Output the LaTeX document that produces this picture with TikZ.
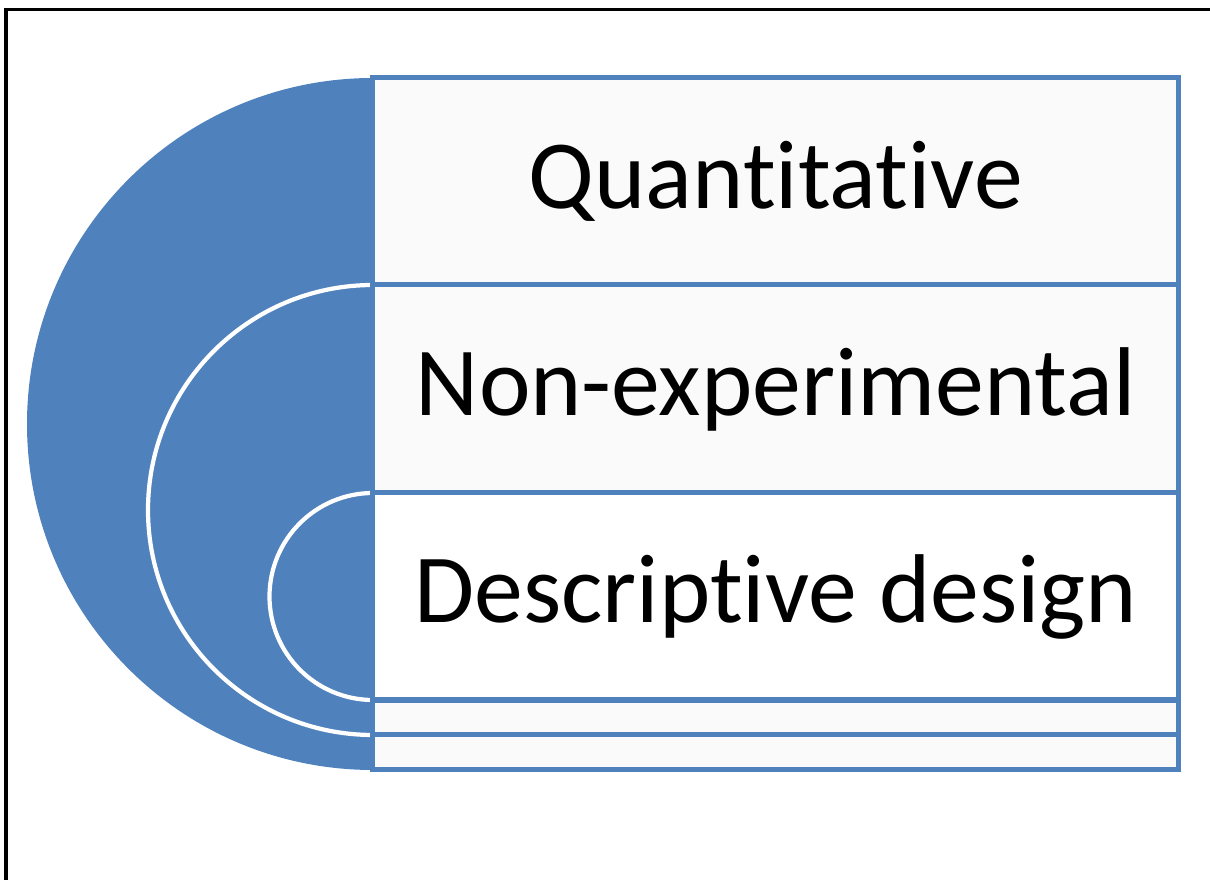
\documentclass[tikz,border=0pt]{standalone}
\usepackage{fontspec}
\setmainfont{Carlito}[Ligatures=NoCommon]
\definecolor{accblue}{HTML}{4F81BD}
\definecolor{boxgrey}{HTML}{FAFAFA}
\begin{document}
\begin{tikzpicture}[x=0.025cm, y=0.025cm]

      \useasboundingbox (0,0) rectangle (1210,880);
      \clip (0,0) rectangle (1210,880);
      \draw[line width=2.5pt] (6,-20) -- (6,870.5) -- (1240,870.5);

      % nested half discs
      \fill[accblue] (373,802) arc[start angle=90, end angle=270, radius=346] -- cycle;
      \fill[accblue] (373,595) arc[start angle=90, end angle=270, radius=225] -- cycle;
      \draw[white, line width=3pt] (373,595) arc[start angle=90, end angle=270, radius=225];
      \fill[accblue] (373,387) arc[start angle=90, end angle=270, radius=103.5] -- cycle;
      \draw[white, line width=3pt] (373,387) arc[start angle=90, end angle=270, radius=103.5];

      \begin{scope}[every node/.style={rectangle, draw=accblue, line width=3.6pt,
          fill=boxgrey, minimum width=20.14cm, inner sep=0pt, outer sep=0pt,
          font=\fontsize{69.5}{80}\selectfont}]
        \node[minimum height=5.175cm] (1) at (775.75,698.5) {Quantitative};
        \node[minimum height=5.2cm]   (2) at (775.75,491)   {Non-experimental};
        \node[minimum height=5.175cm, fill=white] (3) at (775.75,283.5) {Descriptive design};
        \node[minimum height=0.875cm] (4) at (775.75,162.5) {};
        \node[minimum height=0.875cm] (5) at (775.75,127.75) {};
      \end{scope}

    \end{tikzpicture}
\end{document}
